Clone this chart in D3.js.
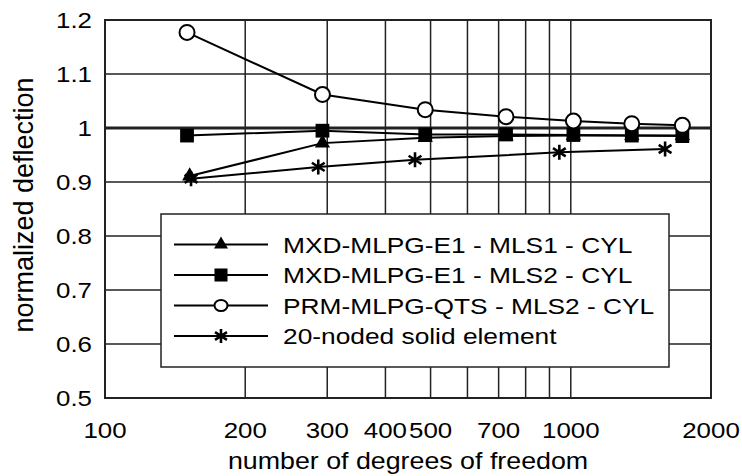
<!DOCTYPE html>
<html><head><meta charset="utf-8">
<script src="https://cdn.jsdelivr.net/npm/d3@7"></script>
<style>body{margin:0;background:#fff}svg{display:block}text{font-family:Arial,"Liberation Sans",sans-serif;fill:#000}</style>
</head><body><svg id="c" width="742" height="476"></svg>
<script>
const dofMain = [150, 293, 487, 726, 1013, 1352, 1736];
const dofTri = [152, 293, 487, 726, 1013, 1352, 1736];
const dofStar = [153, 287, 463, 945, 1594];
const mxdMls1 = [0.911, 0.972, 0.982, 0.985, 0.986, 0.986, 0.986];
const mxdMls2 = [0.986, 0.995, 0.988, 0.988, 0.987, 0.986, 0.985];
const prmQts = [1.177, 1.062, 1.034, 1.021, 1.013, 1.008, 1.005];
const solid20 = [0.906, 0.928, 0.941, 0.955, 0.961];
const seriesNames = ["MXD-MLPG-E1 - MLS1 - CYL", "MXD-MLPG-E1 - MLS2 - CYL", "PRM-MLPG-QTS - MLS2 - CYL", "20-noded solid element"];
const xTickLabels = [100, 200, 300, 400, 500, 700, 1000, 2000];
const xGridValues = [200, 300, 400, 500, 600, 700, 800, 900, 1000];
const yTicks = [0.5, 0.6, 0.7, 0.8, 0.9, 1.0, 1.1, 1.2];

const svg = d3.select("#c");
const m = {l:105, r:31, t:20, b:78};
const W = 742, H = 476;
const x = d3.scaleLog().domain([100, 2000]).range([m.l, W - m.r]);
const y = d3.scaleLinear().domain([0.5, 1.2]).range([H - m.b, m.t]);

// grid
const g = svg.append("g");
g.selectAll(".vg").data(xGridValues).join("line")
  .attr("x1", d => x(d)).attr("x2", d => x(d)).attr("y1", y(0.5)).attr("y2", y(1.2))
  .attr("stroke", "#222").attr("stroke-width", 1.5);
g.selectAll(".hg").data(yTicks.filter(v => v > 0.5 && v < 1.2)).join("line")
  .attr("x1", x(100)).attr("x2", x(2000)).attr("y1", d => y(d)).attr("y2", d => y(d))
  .attr("stroke", "#222").attr("stroke-width", d => Math.abs(d - 1) < 1e-9 ? 3 : 1.5);
svg.append("rect").attr("x", x(100)).attr("y", y(1.2)).attr("width", x(2000) - x(100)).attr("height", y(0.5) - y(1.2))
  .attr("fill", "none").attr("stroke", "#222").attr("stroke-width", 2);

// axes labels
const sx = 1.15;
function stretchText(sel, px, py, anchor, fs, k) {
  sel.attr("transform", `translate(${px},${py}) scale(${k},1)`).attr("text-anchor", anchor).attr("font-size", fs);
}
svg.selectAll(".yt").data(yTicks).join("text").text(d => d === 1 ? "1" : d3.format(".1f")(d))
  .each(function(d){ stretchText(d3.select(this), 92, y(d) + 8, "end", 22.5, sx); });
svg.selectAll(".xt").data(xTickLabels).join("text").text(d => d)
  .each(function(d){ stretchText(d3.select(this), x(d), 438, "middle", 22.5, sx); });
svg.append("text").text("number of degrees of freedom")
  .attr("transform", `translate(${(x(100)+x(2000))/2},469) scale(1.14,1)`).attr("text-anchor", "middle").attr("font-size", 23.5);
svg.append("text").text("normalized deflection")
  .attr("transform", `translate(33,${(y(0.5)+y(1.2))/2 - 4}) rotate(-90)`).attr("text-anchor", "middle").attr("font-size", 27);

// symbols
function starPath(s) {
  const a = s, b = s * 0.85, c = s * 0.55;
  return `M0,${-a}L0,${a}M${-b},${-c}L${b},${c}M${-b},${c}L${b},${-c}`;
}
const tri = d3.symbol().type(d3.symbolTriangle).size(100)();
const sq = d3.symbol().type(d3.symbolSquare).size(190)();
const triL = d3.symbol().type(d3.symbolTriangle).size(85)();
const sqL = d3.symbol().type(d3.symbolSquare).size(170)();

const line = d3.line().x(d => x(d[0])).y(d => y(d[1]));
const series = [
  {xs: dofTri, ys: mxdMls1, kind: "tri"},
  {xs: dofMain, ys: mxdMls2, kind: "sq"},
  {xs: dofMain, ys: prmQts, kind: "circ"},
  {xs: dofStar, ys: solid20, kind: "star"}
];
function drawMarker(sel, kind, legend) {
  if (kind === "tri") sel.append("path").attr("d", legend ? triL : tri).attr("fill", "#000");
  else if (kind === "sq") sel.append("path").attr("d", legend ? sqL : sq).attr("fill", "#000");
  else if (kind === "circ") sel.append("ellipse").attr("rx", legend ? 6.5 : 7.5).attr("ry", legend ? 5.5 : 7.5).attr("fill", "#fff").attr("stroke", "#000").attr("stroke-width", 2);
  else sel.append("path").attr("d", starPath(legend ? 7 : 7.5)).attr("fill", "none").attr("stroke", "#000").attr("stroke-width", 2.6);
}
series.forEach(s => {
  const pts = s.xs.map((v, i) => [v, s.ys[i]]);
  svg.append("path").datum(pts).attr("d", line).attr("fill", "none").attr("stroke", "#000").attr("stroke-width", 2);
});
series.forEach(s => {
  s.xs.forEach((v, i) => {
    const gm = svg.append("g").attr("transform", `translate(${x(v)},${y(s.ys[i])})`);
    drawMarker(gm, s.kind, false);
  });
});

// legend
const lg = svg.append("g");
lg.append("rect").attr("x", 161).attr("y", 214).attr("width", 508).attr("height", 153)
  .attr("fill", "#fff").attr("stroke", "#222").attr("stroke-width", 1.5);
seriesNames.forEach((name, i) => {
  const ry = 244.5 + i * 30.5;
  lg.append("line").attr("x1", 174).attr("x2", 268).attr("y1", ry).attr("y2", ry).attr("stroke", "#000").attr("stroke-width", 2);
  const gm = lg.append("g").attr("transform", `translate(221,${ry})`);
  drawMarker(gm, series[i].kind, true);
  lg.append("text").text(name).attr("transform", `translate(283,${ry + 8}) scale(1.17,1)`).attr("font-size", 22.5);
});
</script></body></html>
